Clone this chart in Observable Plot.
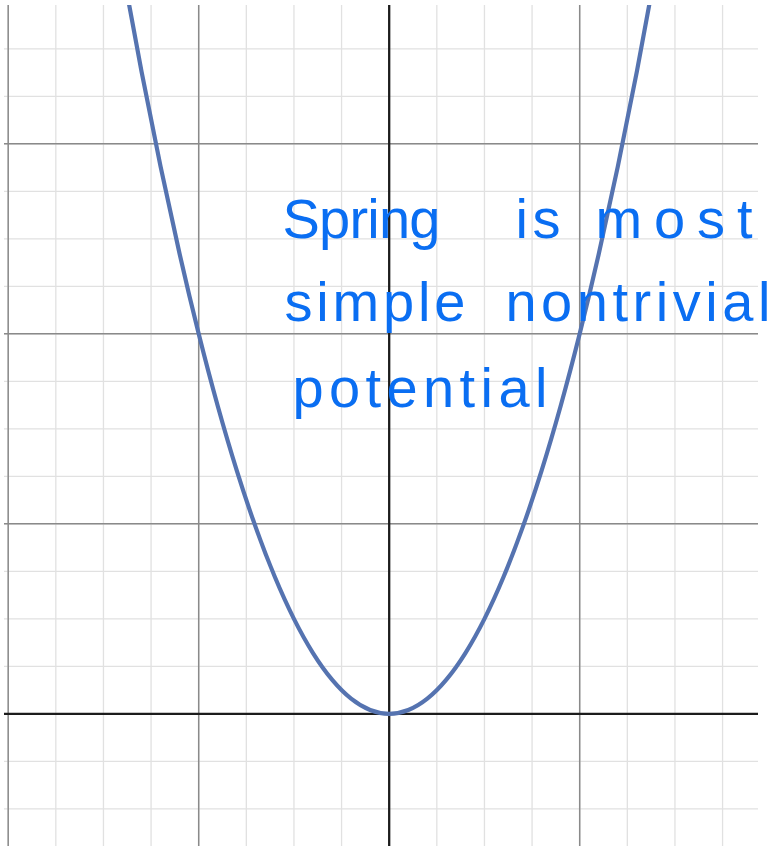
<!DOCTYPE html>
<html>
<head>
<meta charset="utf-8">
<script src="https://cdn.jsdelivr.net/npm/d3@7"></script>
<script src="https://cdn.jsdelivr.net/npm/@observablehq/plot@0.6"></script>
<style>
  html, body { margin: 0; padding: 0; background: #fff; }
  #chart svg { display: block; }
</style>
</head>
<body>
<div id="chart"></div>
<script>
// Potential curve, sampled points (x, V)
const curveX = [-1.4, -1.3, -1.2, -1.1, -1.0, -0.9, -0.8, -0.7, -0.6, -0.5, -0.4, -0.3, -0.2, -0.1, 0,
                 0.1, 0.2, 0.3, 0.4, 0.5, 0.6, 0.7, 0.8, 0.9, 1.0, 1.1, 1.2, 1.3, 1.4];
const curveY = [3.92, 3.38, 2.88, 2.42, 2.0, 1.62, 1.28, 0.98, 0.72, 0.5, 0.32, 0.18, 0.08, 0.02, 0,
                0.02, 0.08, 0.18, 0.32, 0.5, 0.72, 0.98, 1.28, 1.62, 2.0, 2.42, 2.88, 3.38, 3.92];

// Grid lines
const minorX = [-2, -1.75, -1.5, -1.25, -1, -0.75, -0.5, -0.25, 0.25, 0.5, 0.75, 1, 1.25, 1.5, 1.75];
const majorX = [-2, -1, 1];
const minorY = [-0.5, -0.25, 0.25, 0.5, 0.75, 1, 1.25, 1.5, 1.75, 2, 2.25, 2.5, 2.75, 3, 3.25, 3.5];
const majorY = [1, 2, 3];

// Handwritten note, one entry per written line
const noteLines = ["Spring is most", "simple nontrivial", "potential"];

const points = curveX.map((x, i) => ({x, y: curveY[i]}));

// Where each written word starts (graph units), its baseline, and its written width (px)
const wordStart = [[-0.56, 0.663, 1.083], [-0.55, 0.61], [-0.508]];
const lineBase = [2.507, 2.07, 1.617];
const wordWidth = [[158, 45, 157], [181, 265], [255]];

const words = noteLines.flatMap((line, i) =>
  line.split(" ").map((w, j) => ({w, x: wordStart[i][j], y: lineBase[i], len: wordWidth[i][j]}))
);

const chart = Plot.plot({
  width: 771,
  height: 846,
  marginLeft: 4,
  marginRight: 13,
  marginTop: 5,
  marginBottom: 0,
  x: {domain: [-2.0194, 1.9386], axis: null},
  y: {domain: [-0.698, 3.728], axis: null},
  marks: [
    Plot.ruleX(minorX, {stroke: "#e1e1e1", strokeWidth: 1.3}),
    Plot.ruleY(minorY, {stroke: "#e1e1e1", strokeWidth: 1.3}),
    Plot.ruleX(majorX, {stroke: "#8a8a8a", strokeWidth: 1.5}),
    Plot.ruleY(majorY, {stroke: "#8a8a8a", strokeWidth: 1.5}),
    Plot.ruleX([0], {stroke: "#1c1c1c", strokeWidth: 2.3}),
    Plot.ruleY([0], {stroke: "#1c1c1c", strokeWidth: 2.3}),
    Plot.line(points, {x: "x", y: "y", curve: "natural", stroke: "#5573b0", strokeWidth: 4.2, clip: true}),
    Plot.text(words, {
      x: "x",
      y: "y",
      text: "w",
      textAnchor: "start",
      lineAnchor: "bottom",
      fontSize: 56,
      fontFamily: "Liberation Sans, Arial, sans-serif",
      fill: "#0a6ef2",
      className: "note"
    })
  ]
});

// Stretch each word to its written width
d3.select(chart).selectAll(".note text")
  .attr("textLength", (d, i) => words[i].len)
  .attr("lengthAdjust", "spacing");

document.getElementById("chart").append(chart);
</script>
</body>
</html>
